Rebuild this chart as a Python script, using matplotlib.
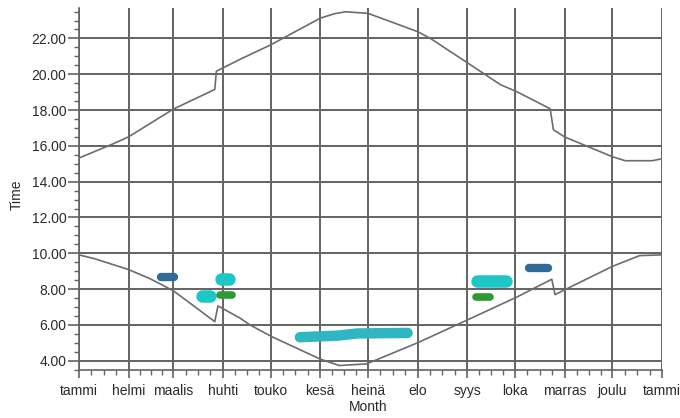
import numpy as np
import matplotlib.pyplot as plt
from matplotlib.ticker import FixedLocator, MultipleLocator, FormatStrFormatter

plt.rcParams['font.family'] = ['Liberation Sans', 'DejaVu Sans']

# month starts (day of year) and Finnish month names
month_start = [0, 31, 59, 90, 120, 151, 181, 212, 243, 273, 304, 334, 365]
month_names = ['tammi', 'helmi', 'maalis', 'huhti', 'touko', 'kesä', 'heinä',
               'elo', 'syys', 'loka', 'marras', 'joulu', 'tammi']

# sunset (upper curve), hours
sunset_day = [0, 21, 31, 59, 85, 86, 101, 120, 151, 160, 167, 181, 212, 220,
              243, 264, 274, 295, 297, 304, 334, 342, 359, 365]
sunset_time = [15.32, 16.10, 16.50, 18.05, 19.15, 20.17, 20.84, 21.64, 23.13,
               23.38, 23.49, 23.40, 22.38, 22.00, 20.65, 19.41, 19.03, 18.07, 16.90,
               16.50, 15.39, 15.17, 15.17, 15.28]

# sunrise (lower curve), hours
sunrise_day = [0, 10, 31, 44, 59, 72, 85, 87, 101, 107, 121, 151, 163, 180, 212,
               243, 274, 296, 298, 305, 334, 351, 365]
sunrise_time = [9.91, 9.69, 9.09, 8.60, 7.91, 7.05, 6.18, 7.06, 6.37, 6.00, 5.33,
                4.09, 3.73, 3.82, 5.00, 6.27, 7.55, 8.55, 7.69, 8.00, 9.27, 9.87, 9.91]

# observation patches: first day, last day, time of day, kind
obs_start = [49, 73, 85, 86, 83, 245, 246, 279]
obs_end = [62, 86, 98, 98, 86, 271, 260, 296]
obs_time = [8.67, 7.64, 8.59, 7.67, 6.82, 8.46, 7.58, 9.17]
obs_kind = ['blue', 'cyan', 'cyan', 'green', 'green', 'cyan', 'green', 'blue']

# long summer observation band
summer_day = [135, 162, 174, 209]
summer_time = [5.31, 5.40, 5.52, 5.55]

kind_style = {
    'blue': ('#2f6a98', 6.0),
    'cyan': ('#1ec6c6', 9.0),
    'green': ('#2f9a32', 5.5),
}
summer_col = '#30b6c2'
summer_lw = 7.5

fig = plt.figure(figsize=(6.8, 4.18), dpi=100)
ax = fig.add_axes([79 / 680, 48 / 418, 583 / 680, 362 / 418])

grid_col = '#636363'
line_col = '#6c6c6c'
px_per_day = 583 / 365


def cap_days(lw):
    # half the line width in days, so round caps stay inside the range
    return lw * 100 / 72 / 2 / px_per_day


for s, e, t, k in zip(obs_start, obs_end, obs_time, obs_kind):
    col, lw = kind_style[k]
    a, b = s + cap_days(lw), e - cap_days(lw)
    if b < a:
        a = b = (s + e) / 2
    ax.plot([a, b], [t, t], color=col, lw=lw, solid_capstyle='round', zorder=3)

sd = list(summer_day)
sd[0] += cap_days(summer_lw)
sd[-1] -= cap_days(summer_lw)
ax.plot(sd, summer_time, color=summer_col, lw=summer_lw,
        solid_capstyle='round', solid_joinstyle='round', zorder=3)

ax.plot(sunset_day, sunset_time, color=line_col, lw=1.2, zorder=4)
ax.plot(sunrise_day, sunrise_time, color=line_col, lw=1.2, zorder=4)

ax.set_xlim(0, 365)
ax.set_ylim(3.48, 23.7)

# ticks
ax.xaxis.set_major_locator(FixedLocator(month_start))
ax.set_xticklabels(month_names)
minor_x = []
for a, b in zip(month_start[:-1], month_start[1:]):
    minor_x += [a + (b - a) * q / 4 for q in (1, 2, 3)]
ax.xaxis.set_minor_locator(FixedLocator(minor_x))
ax.yaxis.set_major_locator(MultipleLocator(2))
ax.yaxis.set_minor_locator(MultipleLocator(0.5))
ax.yaxis.set_major_formatter(FormatStrFormatter('%.2f'))

ax.tick_params(axis='x', which='major', length=6, width=1.2, color=grid_col,
               pad=4, labelsize=10, labelcolor='#2a2a2a')
ax.tick_params(axis='x', which='minor', length=3.5, width=1.0, color=grid_col)
ax.tick_params(axis='y', which='major', length=8, width=1.2, color=grid_col,
               pad=1, labelsize=10, labelcolor='#2a2a2a')
ax.tick_params(axis='y', which='minor', length=3.5, width=1.0, color=grid_col)

ax.grid(True, which='major', color=grid_col, lw=1.4, zorder=0)
ax.set_axisbelow(True)

for side in ['top', 'right']:
    ax.spines[side].set_visible(False)
for side in ['left', 'bottom']:
    ax.spines[side].set_color(grid_col)
    ax.spines[side].set_linewidth(1.2)

ax.set_xlabel('Month', fontsize=10, color='#2a2a2a')
ax.xaxis.set_label_coords(0.496, -0.083)
ax.set_ylabel('Time', fontsize=10, color='#2a2a2a')
ax.yaxis.set_label_coords(-0.095, 0.483)

fig.savefig('out.png', dpi=100)
